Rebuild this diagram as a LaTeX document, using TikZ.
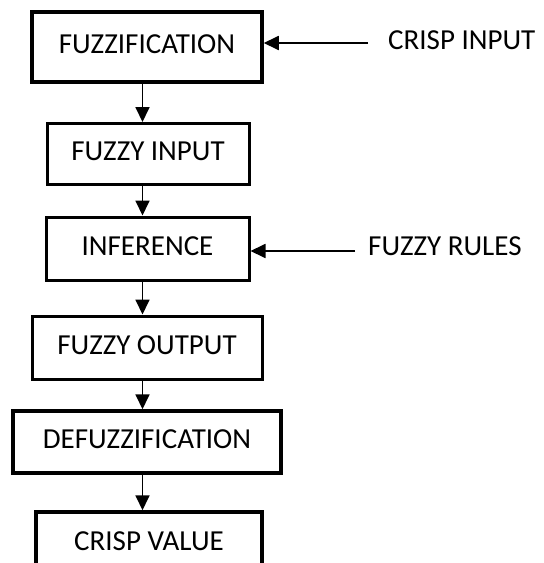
\documentclass[tikz,border=0pt]{standalone}
\usepackage{fontspec}
\setmainfont{Carlito}
\usetikzlibrary{arrows.meta}
\begin{document}
\begin{tikzpicture}[x=1pt,y=-1pt,
  box/.style={draw=black,line width=3.5pt,fill=white,inner sep=0pt,text depth=5pt,font=\fontsize{29}{34}\selectfont},
  lbl/.style={inner sep=0pt,anchor=west,font=\fontsize{29}{34}\selectfont},
  arr/.style={line width=1.8pt,-{Triangle[length=15pt,width=14pt]}}]
\clip (0,0) rectangle (544,563);
\fill[white] (0,0) rectangle (544,563);
\coordinate (ax) at (142.5,0);
\node[box,minimum width=230pt,minimum height=70pt] (f) at (147,47) {FUZZIFICATION};
\node[box,line width=3pt,minimum width=202pt,minimum height=61pt] (fi) at (148,154) {FUZZY INPUT};
\node[box,line width=3pt,minimum width=203pt,minimum height=63pt] (inf) at (147.5,248.5) {INFERENCE};
\node[box,line width=3pt,minimum width=230pt,minimum height=63pt] (fo) at (147,347.5) {FUZZY OUTPUT};
\node[box,minimum width=268pt,minimum height=62pt] (d) at (147,442) {DEFUZZIFICATION};
\node[box,minimum width=226pt,minimum height=63pt] (c) at (149,543.5) {CRISP VALUE};
\node[lbl] (ci) at (388,40.5) {CRISP INPUT};
\node[lbl] (fr) at (368,246) {FUZZY RULES};
\draw[arr] ([shift={(-20,2.5)}]ci.west) -- ([yshift=-2.5pt]ci.west -| f.east);
\draw[arr] ([shift={(-13,5)}]fr.west) -- ([yshift=-5pt]fr.west -| inf.east);
\draw[arr] (f.south -| ax) -- (fi.north -| ax);
\draw[arr] (fi.south -| ax) -- (inf.north -| ax);
\draw[arr] (inf.south -| ax) -- (fo.north -| ax);
\draw[arr] (fo.south -| ax) -- (d.north -| ax);
\draw[arr] (d.south -| ax) -- (c.north -| ax);
\end{tikzpicture}
\end{document}
